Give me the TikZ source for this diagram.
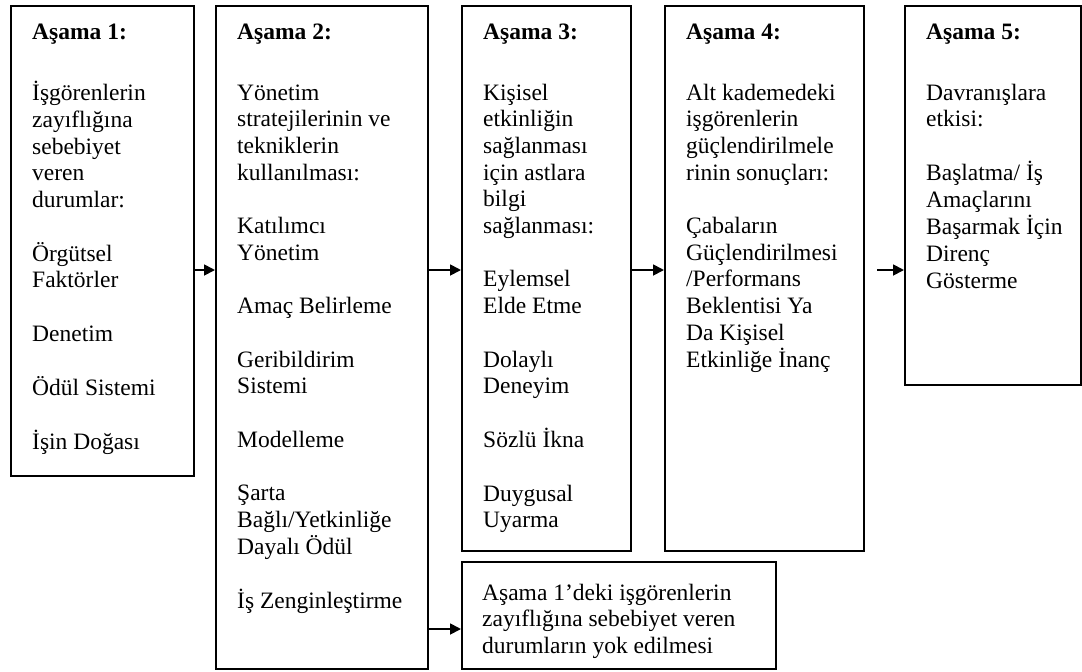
\documentclass[tikz,border=0pt]{standalone}
\usepackage{fontspec}
\setmainfont{Liberation Serif}
\usetikzlibrary{arrows.meta}
\newcommand{\stack}[1]{\begin{tabular}[t]{@{}l@{}}#1\end{tabular}}
\begin{document}
\begin{tikzpicture}[x=1pt,y=-1pt,
  box/.style={draw, line width=1.8pt, anchor=north west, inner sep=0pt},
  txt/.style={anchor=base west, inner sep=0pt, font=\fontsize{23.5}{26.7}\selectfont},
  arr/.style={line width=1.8pt, -{Triangle[length=11pt,width=11pt]}}]
\useasboundingbox (0,0) rectangle (1082,672);
\node[box, minimum width=183pt, minimum height=470pt] (b1) at (10,5) {};
\node[box, minimum width=212pt, minimum height=663pt] (b2) at (215,5) {};
\node[box, minimum width=169pt, minimum height=545pt] (b3) at (461,5) {};
\node[box, minimum width=199pt, minimum height=545pt] (b4) at (664,5) {};
\node[box, minimum width=176pt, minimum height=379pt] (b5) at (904,5) {};
\node[box, minimum width=314pt, minimum height=107pt] (b6) at (461,561) {};
\node[txt] (t1) at (32,39) {\stack{\textbf{Aşama 1:}\\[34.3pt] İşgörenlerin\\ zayıflığına\\ sebebiyet\\ veren\\ durumlar:\\[26.7pt] Örgütsel\\ Faktörler\\[26.7pt] Denetim\\[26.7pt] Ödül Sistemi\\[26.7pt] İşin Doğası}};
\node[txt] (t2) at (237,39) {\stack{\textbf{Aşama 2:}\\[34.3pt] Yönetim\\ stratejilerinin ve\\ tekniklerin\\ kullanılması:\\[26.7pt] Katılımcı\\ Yönetim\\[26.7pt] Amaç Belirleme\\[26.7pt] Geribildirim\\ Sistemi\\[26.7pt] Modelleme\\[26.7pt] Şarta\\ Bağlı/Yetkinliğe\\ Dayalı Ödül\\[26.7pt] İş Zenginleştirme}};
\node[txt] (t3) at (483,39) {\stack{\textbf{Aşama 3:}\\[34.3pt] Kişisel\\ etkinliğin\\ sağlanması\\ için astlara\\ bilgi\\ sağlanması:\\[26.7pt] Eylemsel\\ Elde Etme\\[26.7pt] Dolaylı\\ Deneyim\\[26.7pt] Sözlü İkna\\[26.7pt] Duygusal\\ Uyarma}};
\node[txt] (t4) at (686,39) {\stack{\textbf{Aşama 4:}\\[34.3pt] Alt kademedeki\\ işgörenlerin\\ güçlendirilmele\\ rinin sonuçları:\\[26.7pt] Çabaların\\ Güçlendirilmesi\\ /Performans\\ Beklentisi Ya\\ Da Kişisel\\ Etkinliğe İnanç}};
\node[txt] (t5) at (926,39) {\stack{\textbf{Aşama 5:}\\[34.3pt] Davranışlara\\ etkisi:\\[26.7pt] Başlatma/ İş\\ Amaçlarını\\ Başarmak İçin\\ Direnç\\ Gösterme}};
\node[txt] (t6) at (482,600) {\stack{Aşama 1’deki işgörenlerin\\ zayıflığına sebebiyet veren\\ durumların yok edilmesi}};
\coordinate (ay) at (0,270);
\coordinate (ay2) at (0,629);
\coordinate (tail4) at (877,270);
\draw[arr] (b1.east |- ay) -- (b2.west |- ay);
\draw[arr] (b2.east |- ay) -- (b3.west |- ay);
\draw[arr] (b3.east |- ay) -- (b4.west |- ay);
\draw[arr] (tail4) -- (b5.west |- ay);
\draw[arr] (b2.east |- ay2) -- (b6.west |- ay2);
\end{tikzpicture}
\end{document}
